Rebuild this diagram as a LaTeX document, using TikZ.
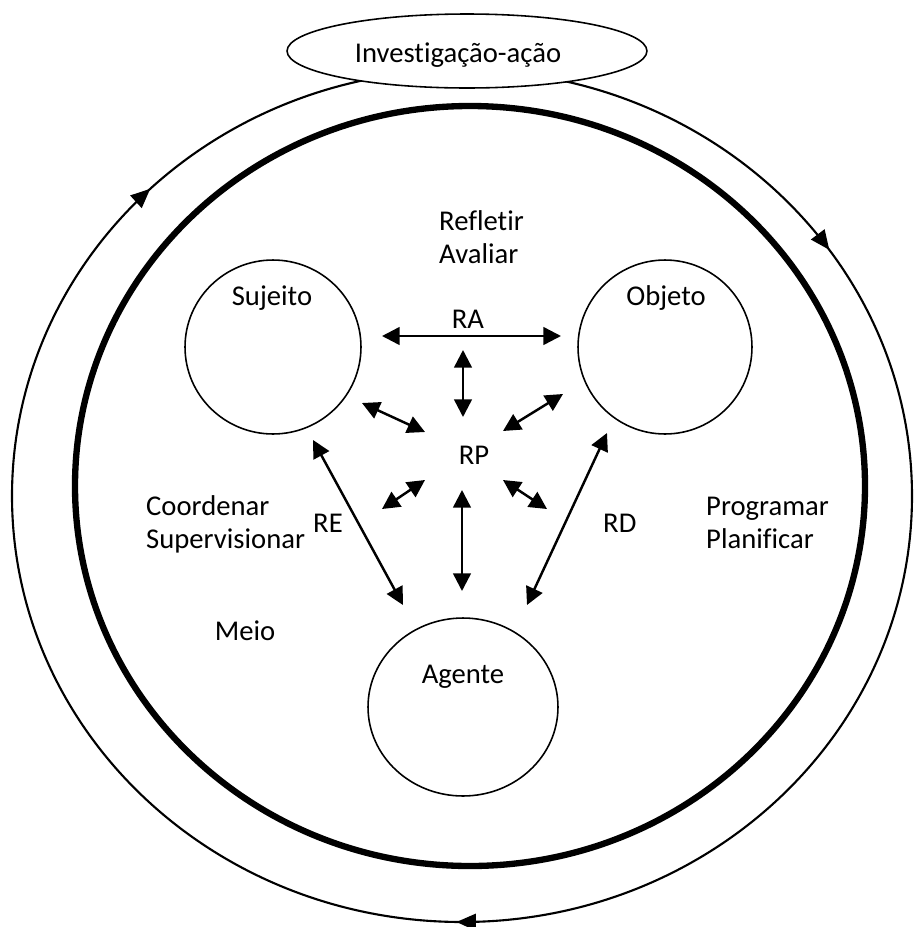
\documentclass[tikz,border=0pt]{standalone}
\usepackage{fontspec}
\setmainfont[Ligatures=NoCommon]{Carlito}

\begin{document}
\begin{tikzpicture}[x=0.02cm,y=-0.02cm]
\usetikzlibrary{arrows.meta,shapes.geometric,decorations.markings}
\tikzset{edge/.style = {{Triangle[length=10pt,width=10pt]}-{Triangle[length=10pt,width=10pt]}, line width=1.4pt}}
\tikzset{vertex/.style = {shape=ellipse, draw, line width=0.9pt, inner sep=0pt}}
\tikzset{word/.style = {font=\fontsize{16.3}{19}\selectfont}}
\tikzset{looptip/.style = {decoration={markings,
  mark=at position 0.252 with {\arrow{Triangle[length=11pt,width=9.5pt]}},
  mark=at position 0.626 with {\arrow{Triangle[length=11pt,width=9.5pt]}},
  mark=at position 0.904 with {\arrow{Triangle[length=11pt,width=9.5pt]}}}}}
\useasboundingbox (0,0) rectangle (915,927);
\draw[line width=1.2pt, looptip, postaction={decorate}] (462,496) ellipse [x radius=450, y radius=426];
\draw[line width=3.6pt] (470,486) ellipse [x radius=395, y radius=380];
\node[vertex, fill=white, minimum width=7.2cm, minimum height=1.48cm](ia) at (467,51) {};
\node[word, anchor=base](iatxt) at (458,62) {Investigação-ação};
\node[vertex, minimum width=3.52cm, minimum height=3.48cm](sujeito) at (273,347) {};
\node[vertex, minimum width=3.48cm, minimum height=3.48cm](objeto) at (665,347) {};
\node[vertex, minimum width=3.8cm, minimum height=3.56cm](agente) at (463,707) {};
\node[word, anchor=base](sujeitotxt) at (272,305) {Sujeito};
\node[word, anchor=base](objetotxt) at (666,305) {Objeto};
\node[word, anchor=base](agentetxt) at (463,683) {Agente};
\node[word, anchor=base west](refletir) at (433,230) {Refletir};
\node[word, anchor=base west](avaliar) at (433,263) {Avaliar};
\node[word, anchor=base west](coordenar) at (140,515) {Coordenar};
\node[word, anchor=base west](supervisionar) at (140,548) {Supervisionar};
\node[word, anchor=base west](programar) at (700,515) {Programar};
\node[word, anchor=base west](planificar) at (700,548) {Planificar};
\node[word, anchor=base](meio) at (245,640) {Meio};
\node[word, anchor=base](ra) at (468,328) {RA};
\node[word, anchor=base](rp) at (474,464) {RP};
\node[word, anchor=base west](re) at (307,532) {RE};
\node[word, anchor=base west](rd) at (597,532) {RD};
\coordinate (ra1) at (382,336);
\coordinate (ra2) at (561,336);
\coordinate (up1) at (463,350);
\coordinate (up2) at (463,417);
\coordinate (sp1) at (362,403);
\coordinate (sp2) at (425,432);
\coordinate (op1) at (563,394);
\coordinate (op2) at (503,431);
\coordinate (lp1) at (425,480);
\coordinate (lp2) at (382,509);
\coordinate (rp1) at (503,480);
\coordinate (rp2) at (547,509);
\coordinate (dn1) at (462,490);
\coordinate (dn2) at (462,591);
\coordinate (re1) at (313,440);
\coordinate (re2) at (403,605);
\coordinate (rd1) at (607,433);
\coordinate (rd2) at (527,605);
\draw[edge] (ra1) to (ra2);
\draw[edge] (up1) to (up2);
\draw[edge] (sp1) to (sp2);
\draw[edge] (op1) to (op2);
\draw[edge] (lp1) to (lp2);
\draw[edge] (rp1) to (rp2);
\draw[edge] (dn1) to (dn2);
\draw[edge] (re1) to (re2);
\draw[edge] (rd1) to (rd2);
\end{tikzpicture}
\end{document}
